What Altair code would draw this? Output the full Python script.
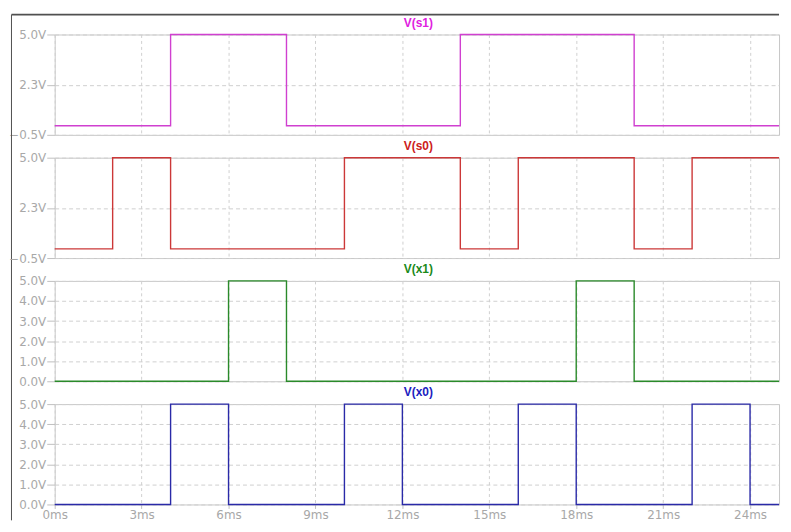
import altair as alt
import pandas as pd

# ---- data (transition times in ms, level in V after each time) ----
t_s1 = [0, 4, 8, 14, 20, 25]
v_s1 = [0, 5, 0, 5, 0, 0]
t_s0 = [0, 2, 4, 10, 14, 16, 20, 22, 25]
v_s0 = [0, 5, 0, 5, 0, 5, 0, 5, 5]
t_x1 = [0, 6, 8, 18, 20, 25]
v_x1 = [0, 5, 0, 5, 0, 0]
t_x0 = [0, 4, 6, 10, 12, 16, 18, 22, 24, 25]
v_x0 = [0, 5, 0, 5, 0, 5, 0, 5, 0, 0]

names = ["V(s1)", "V(s0)", "V(x1)", "V(x0)"]
line_colors = ["#d040d0", "#cc3838", "#2a8a2a", "#2a2aa8"]
title_colors = ["#e020e0", "#cc2020", "#1a8a1a", "#2020c0"]
y_domains = [[-0.5, 5], [-0.5, 5], [0, 5], [0, 5]]
y_ticks = [[-0.5, 2.25, 5], [-0.5, 2.25, 5], [0, 1, 2, 3, 4, 5], [0, 1, 2, 3, 4, 5]]
x_ticks = [0, 3, 6, 9, 12, 15, 18, 21, 24]
series = [(t_s1, v_s1), (t_s0, v_s0), (t_x1, v_x1), (t_x0, v_x0)]

W, H = 729, 101
FONT = "DejaVu Sans"
one = pd.DataFrame({"a": [0]})


def panel(i):
    t, v = series[i]
    last = i == 3
    df = pd.DataFrame({"t": t, "v": v})
    x = alt.X(
        "t:Q",
        scale=alt.Scale(domain=[0, 25], nice=False, zero=False),
        axis=alt.Axis(
            values=x_ticks, grid=True, gridDash=[3, 3], gridColor="#d0d0d0",
            labels=last, ticks=last, domain=False, title=None, labelFlush=False,
            labelExpr="datum.value + 'ms'", tickSize=4, labelPadding=1,
            tickColor="#c0c0c0", labelColor="#a8a8a8", labelFont=FONT,
            labelFontSize=12,
        ),
    )
    y = alt.Y(
        "v:Q",
        scale=alt.Scale(domain=y_domains[i], nice=False, zero=False),
        axis=alt.Axis(
            values=y_ticks[i], grid=True, gridDash=[4, 3], gridColor="#d0d0d0",
            domain=False, title=None, tickSize=8, labelPadding=1,
            tickColor="#c0c0c0", labelColor="#a8a8a8", labelFont=FONT,
            labelFontSize=12, labelFlush=False,
            labelExpr="datum.value == 2.25 ? '2.3V' : format(datum.value, '.1f') + 'V'",
        ),
    )
    line = alt.Chart(df).mark_line(
        interpolate="step-after", color=line_colors[i], strokeWidth=1.4
    ).encode(x=x, y=y)
    title = alt.Chart(one).mark_text(
        text=names[i], color=title_colors[i], fontWeight="bold",
        fontSize=12, font="Liberation Sans", baseline="middle", align="center",
    ).encode(x=alt.value(366), y=alt.value(-12))
    layers = [line, title]
    if i == 0:
        top_rule = alt.Chart(one).mark_rule(color="#505050", strokeWidth=2).encode(
            x=alt.value(-43.5), x2=alt.value(729), y=alt.value(-20)
        )
        left_rule = alt.Chart(one).mark_rule(color="#505050", strokeWidth=1).encode(
            x=alt.value(-43.5), y=alt.value(-20), y2=alt.value(489)
        )
        layers += [top_rule, left_rule]
    return alt.layer(*layers).properties(width=W, height=H)


chart = alt.vconcat(*[panel(i) for i in range(4)], spacing=23, bounds="flush").properties(
    padding={"left": 0, "top": 3, "right": 0, "bottom": 0},
    background="white",
).configure_view(stroke="#c8c8c8", strokeWidth=1)

chart.save("out.html", embed_options={"renderer": "svg", "actions": False})
